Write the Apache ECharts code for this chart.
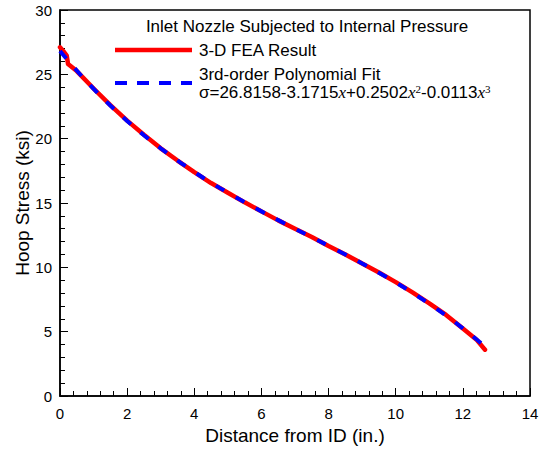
<!DOCTYPE html>
<html>
<head>
<meta charset="utf-8">
<script src="https://cdn.jsdelivr.net/npm/echarts@6/dist/echarts.min.js"></script>
<style>html,body{margin:0;padding:0;background:#fff;}#c{width:546px;height:450px;}</style>
</head>
<body>
<div id="c"></div>
<script>
// FEA result
const feaX = [0, 0.1, 0.2, 0.24, 0.5, 1, 1.5, 2, 2.5, 3, 3.5, 4, 4.5, 5, 5.5, 6, 6.5, 7, 7.5, 8, 8.5, 9, 9.5, 10, 10.5, 11, 11.5, 12, 12.4, 12.66];
const feaY = [27.1, 26.8, 26.45, 25.8, 25.25, 23.9, 22.6, 21.4, 20.3, 19.25, 18.3, 17.4, 16.55, 15.8, 15.05, 14.35, 13.65, 13.0, 12.35, 11.65, 11.0, 10.3, 9.6, 8.85, 8.05, 7.2, 6.3, 5.25, 4.4, 3.6];
// Polynomial fit
const fitX = [0, 0.5, 1, 1.5, 2, 2.5, 3, 3.5, 4, 4.5, 5, 5.5, 6, 6.5, 7, 7.5, 8, 8.5, 9, 9.5, 10, 10.5, 11, 11.5, 12, 12.5, 12.7];
const fitY = [26.82, 25.29, 23.88, 22.58, 21.38, 20.27, 19.25, 18.30, 17.41, 16.58, 15.80, 15.06, 14.35, 13.67, 13.00, 12.34, 11.67, 11.00, 10.30, 9.58, 8.82, 8.02, 7.16, 6.25, 5.26, 4.20, 3.75];
const xTicks = [0, 2, 4, 6, 8, 10, 12, 14];
const yTicks = [0, 5, 10, 15, 20, 25, 30];
const chartTitle = 'Inlet Nozzle Subjected to Internal Pressure';
const seriesNames = ['3-D FEA Result', '3rd-order Polynomial Fit'];
const xName = 'Distance from ID (in.)';
const yName = 'Hoop Stress (ksi)';

const FONT = "'Liberation Sans', Arial, sans-serif";
const chart = echarts.init(document.getElementById('c'), null, {renderer: 'svg'});
const pair = (xs, ys) => xs.map((x, i) => [x, ys[i]]);

chart.setOption({
  animation: false,
  backgroundColor: '#fff',
  grid: {left: 60, right: 16, top: 10, bottom: 49, show: true, borderColor: '#000', borderWidth: 1.5, backgroundColor: 'transparent'},
  xAxis: {
    type: 'value', min: xTicks[0], max: xTicks[xTicks.length - 1], interval: 2,
    name: xName, nameLocation: 'middle', nameGap: 30,
    nameTextStyle: {fontFamily: FONT, fontSize: 19, color: '#000'},
    axisLine: {show: true, onZero: false, lineStyle: {color: '#000', width: 1.5}},
    axisTick: {show: true, inside: true, length: 8, lineStyle: {color: '#000', width: 1}},
    minorTick: {show: true, splitNumber: 5, length: 5, lineStyle: {color: '#000', width: 1}},
    splitLine: {show: false},
    axisLabel: {fontFamily: FONT, fontSize: 15, color: '#000', margin: 10}
  },
  yAxis: {
    type: 'value', min: yTicks[0], max: yTicks[yTicks.length - 1], interval: 5,
    name: yName, nameLocation: 'middle', nameGap: 28, nameMoveOverlap: false,
    nameTextStyle: {fontFamily: FONT, fontSize: 19, color: '#000'},
    axisLine: {show: true, onZero: false, lineStyle: {color: '#000', width: 1.5}},
    axisTick: {show: true, inside: true, length: 8, lineStyle: {color: '#000', width: 1}},
    minorTick: {show: true, splitNumber: 5, length: 5, lineStyle: {color: '#000', width: 1}},
    splitLine: {show: false},
    axisLabel: {fontFamily: FONT, fontSize: 15, color: '#000', margin: 8}
  },
  series: [
    {name: seriesNames[0], type: 'line', data: pair(feaX, feaY), showSymbol: false, smooth: false,
     lineStyle: {color: '#ff0000', width: 4.5, cap: 'round', join: 'round'}, z: 2},
    {name: seriesNames[1], type: 'line', data: pair(fitX, fitY), showSymbol: false, smooth: true,
     lineStyle: {color: '#0000ff', width: 4, type: [10, 13]}, z: 3}
  ],
  graphic: [
    {type: 'text', x: 307, y: 26, style: {text: chartTitle, font: '17px ' + FONT, fill: '#000', textAlign: 'center', textVerticalAlign: 'middle'}},
    {type: 'line', shape: {x1: 115, y1: 50, x2: 192, y2: 50}, style: {stroke: '#ff0000', lineWidth: 4.5}},
    {type: 'text', x: 199, y: 50, style: {text: seriesNames[0], font: '17px ' + FONT, fill: '#000', textVerticalAlign: 'middle'}},
    {type: 'line', shape: {x1: 115, y1: 83, x2: 192, y2: 83}, style: {stroke: '#0000ff', lineWidth: 4, lineDash: [12, 10]}},
    {type: 'text', x: 199, y: 74, style: {text: seriesNames[1], font: '17px ' + FONT, fill: '#000', textVerticalAlign: 'middle'}},
    {type: 'text', x: 199, y: 92, style: {
      text: '{n|σ=26.8158-3.1715}{i|x}{n|+0.2502}{i|x}{s|2}{n|-0.0113}{i|x}{s|3}',
      textVerticalAlign: 'middle',
      rich: {
        n: {fontFamily: FONT, fontSize: 17, color: '#000'},
        i: {fontFamily: "'Liberation Serif', 'Times New Roman', serif", fontStyle: 'italic', fontSize: 17, color: '#000'},
        s: {fontFamily: "'Liberation Serif', 'Times New Roman', serif", fontSize: 11, color: '#000', verticalAlign: 'top', padding: [0, 0, 7, 0]}
      }
    }}
  ]
});
</script>
</body>
</html>
